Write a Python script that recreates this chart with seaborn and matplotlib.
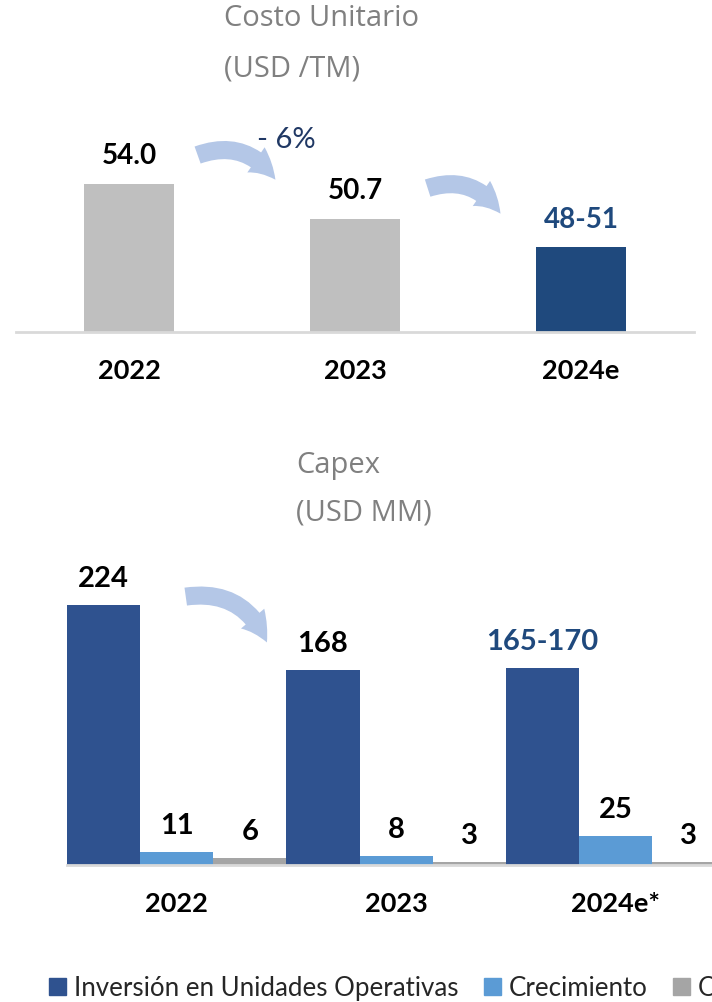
import pandas as pd
import numpy as np
import matplotlib
matplotlib.use("Agg")
import matplotlib.pyplot as plt
import seaborn as sns
from matplotlib.patches import Patch

# datos
anios_costo = ["2022", "2023", "2024e"]
costo_unitario = [54.0, 50.7, 48.0]
etiquetas_costo = ["54.0", "50.7", "48-51"]

anios_capex = ["2022", "2023", "2024e*"]
series_capex = ["Inversión en Unidades Operativas", "Crecimiento", "Otros"]
capex_operativas = [224, 168, 170]
capex_crecimiento = [11, 8, 25]
capex_otros = [6, 3, 3]
etiquetas_operativas = ["224", "168", "165-170"]

sns.set_theme(style="white")
plt.rcParams["font.family"] = ["Lato", "DejaVu Sans"]

W, H = 712, 1003
fig = plt.figure(figsize=(W / 100, H / 100), dpi=100)

col_gris = "#bfbfbf"
col_navy = "#1f497d"
col_azul = "#2f528f"
col_celeste = "#5b9bd5"
col_gris2 = "#a5a5a5"
col_flecha = "#b4c7e7"
col_linea = "#d9d9d9"

# --- Costo unitario ---
ax1 = fig.add_axes([16 / W, 1 - 333 / H, 678 / W, 212 / H])
df1 = pd.DataFrame({"anio": anios_costo, "costo": costo_unitario})
sns.barplot(data=df1, x="anio", y="costo", hue="anio",
            palette=[col_gris, col_gris, col_navy], width=0.4,
            legend=False, saturation=1, linewidth=0, ax=ax1)
ax1.set_ylim(40, 60)
ax1.set_xlim(-0.5, 2.5)
for i, c in enumerate(ax1.containers):
    ax1.bar_label(c, labels=[etiquetas_costo[i]], padding=11,
                  fontsize=20, fontweight="bold",
                  color=col_navy if i == 2 else "black")

# --- Capex ---
ax2 = fig.add_axes([67 / W, 1 - 866 / H, 645 / W, 290 / H])
df2 = pd.DataFrame({
    "anio": anios_capex * 3,
    "serie": np.repeat(series_capex, 3),
    "valor": capex_operativas + capex_crecimiento + capex_otros,
})
sns.barplot(data=df2, x="anio", y="valor", hue="serie",
            palette=[col_azul, col_celeste, col_gris2], width=1.0,
            gap=0, saturation=1, legend=False, linewidth=0, ax=ax2)
ax2.set_ylim(0, 250)
ax2.set_xlim(-0.5, (712 - 176.5) / 219.5)
etiquetas = [etiquetas_operativas,
             [str(v) for v in capex_crecimiento],
             [str(v) for v in capex_otros]]
for i, c in enumerate(ax2.containers):
    cols = ["black"] * 3
    if i == 0:
        cols[2] = col_navy
    txts = ax2.bar_label(c, labels=etiquetas[i], padding=10,
                         fontsize=21, fontweight="bold")
    for t, cc in zip(txts, cols):
        t.set_color(cc)

for ax in (ax1, ax2):
    sns.despine(ax=ax, left=True, top=True, right=True)
    ax.spines["bottom"].set_color(col_linea)
    ax.spines["bottom"].set_linewidth(2)
    ax.set_yticks([])
    ax.set_xlabel("")
    ax.set_ylabel("")
    ax.tick_params(axis="x", length=0, pad=19, labelsize=19.5)
    for lb in ax.get_xticklabels():
        lb.set_fontweight("bold")
        lb.set_color("black")

# titulos
tfont = dict(fontsize=21, color="#808080", family=["Open Sans", "DejaVu Sans"],
             va="center", ha="left")
fig.text(224 / W, 1 - 19 / H, "Costo Unitario", **tfont)
fig.text(224 / W, 1 - 69 / H, "(USD /TM)", **tfont)
fig.text(296 / W, 1 - 466 / H, "Capex", **tfont)
fig.text(296 / W, 1 - 513 / H, "(USD MM)", **tfont)

fig.text(257 / W, 1 - 140 / H, "- 6%", fontsize=21, color="#203864",
         va="center", ha="left")

# flechas
def flecha(x0, y0, x1, y1):
    fig.add_artist(matplotlib.patches.FancyArrowPatch(
        (x0, H - y0), (x1, H - y1), transform=None,
        arrowstyle="simple,head_width=22,head_length=20,tail_width=13",
        connectionstyle="arc3,rad=-0.4", color=col_flecha, lw=0,
        mutation_scale=1))

flecha(195, 157, 277, 183)
flecha(425, 190, 502, 217)
flecha(183, 598, 268, 646)

# leyenda (el último rótulo queda cortado en el borde, como en el original)
handles = [Patch(color=c) for c in (col_azul, col_celeste, col_gris2)]
fig.legend(handles, series_capex, loc="center left",
           bbox_to_anchor=(39 / W, 1 - 989 / H), ncol=3, frameon=False,
           fontsize=18.6, handlelength=0.65, handleheight=0.65,
           handletextpad=0.3, columnspacing=1.0, borderaxespad=0)

fig.savefig("out.png", dpi=100)
